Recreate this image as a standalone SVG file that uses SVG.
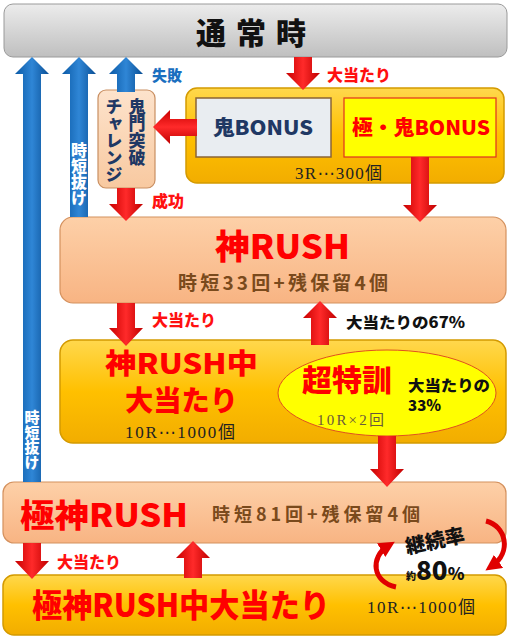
<svg xmlns="http://www.w3.org/2000/svg" width="511" height="640" viewBox="0 0 511 640">
<defs>
<linearGradient id="gGray" x1="0" y1="0" x2="0" y2="1"><stop offset="0" stop-color="#ececec"/><stop offset="1" stop-color="#bfbfbf"/></linearGradient>
<linearGradient id="gGold" x1="0" y1="0" x2="0" y2="1"><stop offset="0" stop-color="#ffd84d"/><stop offset="0.5" stop-color="#ffc000"/><stop offset="1" stop-color="#f2ad00"/></linearGradient>
<linearGradient id="gPeach" x1="0" y1="0" x2="0" y2="1"><stop offset="0" stop-color="#fdd0a8"/><stop offset="1" stop-color="#f8b483"/></linearGradient>
<linearGradient id="gChal" x1="0" y1="0" x2="0" y2="1"><stop offset="0" stop-color="#fde3cc"/><stop offset="1" stop-color="#f8c9a0"/></linearGradient>
<linearGradient id="gRed" x1="0" y1="0" x2="1" y2="0"><stop offset="0" stop-color="#c80000"/><stop offset="0.5" stop-color="#ff2a2a"/><stop offset="1" stop-color="#c00000"/></linearGradient>
<linearGradient id="gRedH" x1="0" y1="0" x2="0" y2="1"><stop offset="0" stop-color="#c80000"/><stop offset="0.5" stop-color="#ff2a2a"/><stop offset="1" stop-color="#c00000"/></linearGradient>
<linearGradient id="gBlue" x1="0" y1="0" x2="1" y2="0"><stop offset="0" stop-color="#0b5aa6"/><stop offset="0.5" stop-color="#2f86d6"/><stop offset="1" stop-color="#0a4f95"/></linearGradient>
<marker id="mh" viewBox="0 0 10 10" refX="5" refY="5" markerWidth="3.2" markerHeight="3.2" orient="auto"><path d="M0,0 L10,5 L0,10 Z" fill="#e00000"/></marker>
</defs>
<style>
.jp{font-family:"Noto Sans CJK JP","Noto Sans",sans-serif;font-weight:900}
.sr{font-family:"Liberation Serif","Noto Sans CJK JP",serif}
.cj{font-family:"DejaVu Sans","Noto Sans CJK JP",sans-serif}
.red{fill:#ff0000}
.lab{font-size:16px;fill:#ff1010}
.blab{font-size:15px;fill:#1a6fc0}
.brn{fill:#7a4a1c;font-weight:700}
.navy{fill:#1f3864}
.ra{fill:url(#gRed)}
.ba{fill:url(#gBlue)}
.vt{writing-mode:vertical-rl}
</style>
<g id="normal">
<rect x="4" y="4" width="503" height="53" rx="9" fill="url(#gGray)" stroke="#9a9a9a"/>
<text x="256" y="44" class="jp" font-size="30" text-anchor="middle" letter-spacing="10" fill="#111">通常時</text>
</g>
<g id="bonus">
<rect x="186" y="88" width="318" height="95" rx="11" fill="url(#gGold)" stroke="#d49a00" stroke-width="1.5"/>
<rect x="196" y="98" width="135" height="59" fill="#e9edf1" stroke="#8a6436" stroke-width="1.5"/>
<text x="213" y="135" class="jp navy" font-size="20" textLength="100" lengthAdjust="spacingAndGlyphs">鬼BONUS</text>
<rect x="344" y="98" width="152" height="59" fill="#ffff00" stroke="#e03020" stroke-width="1.2"/>
<text x="352" y="135" class="jp red" font-size="20" textLength="138" lengthAdjust="spacingAndGlyphs">極・鬼BONUS</text>
<text x="295" y="179" class="sr" font-size="17" fill="#222" textLength="87">3R<tspan class="cj">⋯</tspan>300個</text>
</g>
<g id="challenge">
<rect x="98" y="90" width="57" height="98" rx="8" fill="url(#gChal)" stroke="#c98f62" stroke-width="1.2"/>
<text x="137" y="98" class="jp navy vt" font-size="17">鬼門突破</text>
<text x="114" y="98" class="jp navy vt" font-size="17">チャレンジ</text>
</g>
<g id="kamirush">
<rect x="60" y="217" width="446" height="86" rx="13" fill="url(#gPeach)" stroke="#d4915e" stroke-width="1.2"/>
<text x="215" y="259" class="jp red" font-size="34" textLength="135" lengthAdjust="spacingAndGlyphs">神RUSH</text>
<text x="178" y="290" class="jp brn" font-size="19" textLength="210">時短33回+残保留4個</text>
</g>
<g id="kamirush-hit">
<rect x="60" y="340" width="446" height="103" rx="13" fill="url(#gGold)" stroke="#d49a00" stroke-width="1.5"/>
<text x="105" y="374" class="jp red" font-size="28" textLength="153" lengthAdjust="spacingAndGlyphs">神RUSH中</text>
<text x="125" y="411" class="jp red" font-size="28" textLength="113" lengthAdjust="spacingAndGlyphs">大当たり</text>
<text x="125" y="438" class="sr" font-size="17" fill="#222" textLength="110">10R<tspan class="cj">⋯</tspan>1000個</text>
</g>
<g id="chotokkun">
<ellipse cx="387" cy="393" rx="109" ry="43" fill="#ffff00" stroke="#e05020" stroke-width="1"/>
<text x="347" y="391" class="jp red" font-size="30" text-anchor="middle">超特訓</text>
<text x="317" y="425" class="sr" font-size="15" fill="#6a5a3a" textLength="67">10R×2回</text>
<text x="408" y="391" class="jp" font-size="15" fill="#111" textLength="82" lengthAdjust="spacingAndGlyphs">大当たりの</text>
<text x="408" y="411" class="jp" font-size="15" fill="#111">33%</text>
</g>
<g id="gokukamirush">
<rect x="3" y="482" width="503" height="61" rx="11" fill="url(#gPeach)" stroke="#d4915e" stroke-width="1.2"/>
<text x="20" y="527" class="jp red" font-size="32" textLength="168" lengthAdjust="spacingAndGlyphs">極神RUSH</text>
<text x="212" y="521" class="jp brn" font-size="18" textLength="208">時短81回+残保留4個</text>
</g>
<g id="gokukamirush-hit">
<rect x="3" y="575" width="503" height="60" rx="11" fill="url(#gGold)" stroke="#d49a00" stroke-width="1.5"/>
<text x="32" y="617" class="jp red" font-size="32" textLength="298" lengthAdjust="spacingAndGlyphs">極神RUSH中大当たり</text>
<text x="367" y="613" class="sr" font-size="17" fill="#222" textLength="108">10R<tspan class="cj">⋯</tspan>1000個</text>
</g>
<g id="connectors">
<path class="ba" d="M23,482 V74 H15 L32,57 L49,74 H41 V482 Z"/>
<path class="ba" d="M70,217 V74 H62 L79,57 L96,74 H88 V217 Z"/>
<path class="ba" d="M117,92 V74 H109 L126,57 L143,74 H135 V92 Z"/>
<text x="79" y="142" class="jp vt" font-size="16" fill="#fff">時短抜け</text>
<text x="32" y="410" class="jp vt" font-size="15" fill="#fff">時短抜け</text>
<text x="152" y="81" class="jp blab">失敗</text>
<path class="ra" d="M294,57 H312 V73 H320 L303,90 L286,73 H294 Z"/>
<text x="327" y="81" class="jp lab">大当たり</text>
<path fill="url(#gRedH)" d="M197,119 V136 H170 V144 L153,127 L170,110 V119 Z"/>
<path class="ra" d="M117,188 H135 V204 H143 L126,221 L109,204 H117 Z"/>
<text x="152" y="207" class="jp lab">成功</text>
<path class="ra" d="M411,157 H429 V205 H437 L420,222 L403,205 H411 Z"/>
<path class="ra" d="M117,303 H135 V328 H143 L126,346 L109,328 H117 Z"/>
<text x="152" y="326" class="jp lab">大当たり</text>
<path class="ra" d="M311,345 V318 H303 L320,301 L337,318 H329 V345 Z"/>
<text x="346" y="328" class="jp" font-size="15" fill="#111" textLength="119" lengthAdjust="spacingAndGlyphs">大当たりの67%</text>
<path class="ra" d="M378,436 H396 V469 H404 L387,487 L370,469 H378 Z"/>
<path class="ra" d="M23,543 H41 V561 H49 L32,579 L15,561 H23 Z"/>
<text x="57" y="568" class="jp lab">大当たり</text>
<path class="ra" d="M184,578 V558 H176 L193,541 L210,558 H202 V578 Z"/>
<path d="M486,521 C506,526 512,552 492,566" fill="none" stroke="#e00000" stroke-width="5" marker-end="url(#mh)"/>
<path d="M396,587 C372,582 370,557 388,546" fill="none" stroke="#e00000" stroke-width="5" marker-end="url(#mh)"/>
<text x="435" y="548" class="jp" font-size="20" fill="#111" text-anchor="middle" transform="rotate(-12 435 541)">継続率</text>
<text x="406" y="580" class="jp" font-size="10" fill="#111">約</text>
<text x="416" y="580" class="jp" font-size="26" fill="#111">80<tspan font-size="17">%</tspan></text>
</g>
</svg>
